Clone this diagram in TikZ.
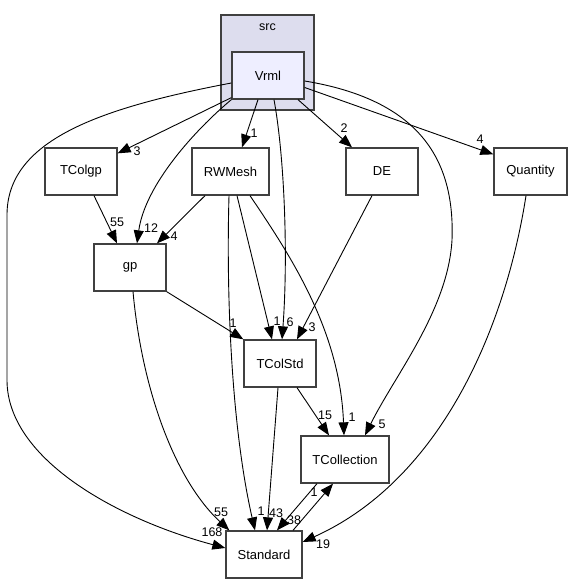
\documentclass[tikz,border=0pt]{standalone}
\usepackage{fontspec}
\setmainfont{Liberation Sans}
\usetikzlibrary{arrows.meta}

\definecolor{clusterbg}{HTML}{DDDDEE}
\definecolor{dirbg}{HTML}{EEEEFF}
\definecolor{boxline}{HTML}{404040}

\begin{document}
\begin{tikzpicture}[x=1pt,y=1pt,
    dir/.style={draw=boxline,line width=1.3pt,fill=white,minimum height=47pt,inner sep=0pt,font=\fontsize{13}{15}\selectfont},
    dep/.style={-{Triangle[length=13pt,width=10pt]},line width=0.9pt},
    num/.style={inner sep=0pt,font=\fontsize{12.5}{14}\selectfont}]
    \useasboundingbox (0,0) rectangle (572,585);

    \draw[draw=boxline,line width=1.3pt,fill=clusterbg] (221,475) rectangle (314,570);
    \node[num] (src) at (267.5,558) {src};

    \node[dir,fill=dirbg,minimum width=72pt] (Vrml) at (268,509.5) {Vrml};
    \node[dir,minimum width=72pt] (TColgp) at (81,413.5) {TColgp};
    \node[dir,minimum width=77pt] (RWMesh) at (230.5,413.5) {RWMesh};
    \node[dir,minimum width=72pt] (DE) at (382,413.5) {DE};
    \node[dir,minimum width=73pt] (Quantity) at (530.5,413.5) {Quantity};
    \node[dir,minimum width=72pt] (gp) at (130,317.5) {gp};
    \node[dir,minimum width=72pt] (TColStd) at (280,221.5) {TColStd};
    \node[dir,minimum width=88pt] (TCollection) at (345,125.5) {TCollection};
    \node[dir,minimum width=76pt] (Standard) at (264,30.5) {Standard};

    \draw[dep] ([yshift=-7.5pt]Vrml.west) .. controls (100,477) and (7,445) .. (7,370) -- (7,205) .. controls (7,125) and (120,65) .. ([yshift=6.5pt]Standard.west);
    \draw[dep] ([yshift=2pt]Vrml.south west) -- ([yshift=-6pt]TColgp.north east);
    \draw[dep] (Vrml.south west) .. controls (195,455) and (145,400) .. ([xshift=7pt]gp.north);
    \draw[dep] ([xshift=-10pt]Vrml.south) -- ([xshift=11.5pt]RWMesh.north);
    \draw[dep] ([xshift=6pt]Vrml.south) .. controls (285,425) and (288,325) .. ([xshift=2pt]TColStd.north);
    \draw[dep] ([xshift=30pt]Vrml.south) -- ([xshift=-30pt]DE.north);
    \draw[dep] ([yshift=-12pt]Vrml.east) -- ([yshift=-7pt]Quantity.north west);
    \draw[dep] ([yshift=-5.5pt]Vrml.east) .. controls (420,485) and (455,425) .. (452,345) .. controls (448,275) and (395,210) .. ([xshift=20pt]TCollection.north);

    \draw[dep] ([xshift=13pt]TColgp.south) -- ([xshift=-13pt]gp.north);
    \draw[dep] ([xshift=-25.5pt]RWMesh.south) -- ([xshift=27pt]gp.north);
    \draw[dep] ([xshift=-1.5pt]RWMesh.south) .. controls (226,285) and (232,155) .. ([xshift=-9pt]Standard.north);
    \draw[dep] ([xshift=6.5pt]RWMesh.south) -- ([xshift=-8pt]TColStd.north);
    \draw[dep] ([xshift=19.5pt]RWMesh.south) .. controls (290,330) and (340,255) .. ([xshift=-1pt]TCollection.north);
    \draw[dep] ([xshift=-10pt]DE.south) -- ([xshift=17pt]TColStd.north);
    \draw[dep] ([xshift=-4.5pt]Quantity.south) .. controls (505,255) and (440,105) .. ([yshift=12.5pt]Standard.east);
    \draw[dep] (gp.south east) -- (TColStd.north west);
    \draw[dep] ([xshift=3pt]gp.south) .. controls (142,195) and (175,105) .. ([xshift=4pt]Standard.north west);
    \draw[dep] ([xshift=-2pt]TColStd.south) -- ([xshift=3pt]Standard.north);
    \draw[dep] ([xshift=17pt]TColStd.south) -- ([xshift=-16pt]TCollection.north);
    \draw[dep] ([xshift=-28pt]TCollection.south) -- ([xshift=13pt]Standard.north);
    \draw[dep] ([xshift=29pt]Standard.north) -- ([xshift=-12pt]TCollection.south);

    % edge counts
    \foreach \x/\y/\t [count=\i] in {212/53/168, 221/73/55, 261/74/1, 276/72/43, 294/65/38,
        314/93/1, 323/41/19, 382/161/5, 352/168/1, 325/170/15, 233/262/1, 277/264/1,
        290/263/6, 312/258/3, 117/363/55, 151/357/12, 174/349/4, 137/434/3,
        254/452/1, 344/457/2, 480/446/4} {
        \node[num] (cnt\i) at (\x,\y) {\t};
    }
\end{tikzpicture}
\end{document}
